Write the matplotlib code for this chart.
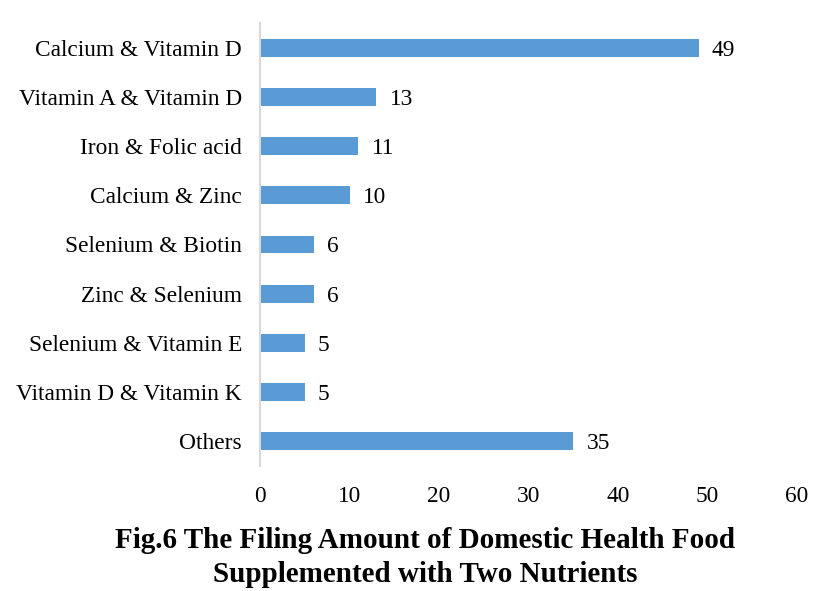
import matplotlib
matplotlib.use("Agg")
import matplotlib.pyplot as plt

categories = ["Calcium & Vitamin D", "Vitamin A & Vitamin D", "Iron & Folic acid",
              "Calcium & Zinc", "Selenium & Biotin", "Zinc & Selenium",
              "Selenium & Vitamin E", "Vitamin D & Vitamin K", "Others"]
values = [49, 13, 11, 10, 6, 6, 5, 5, 35]
xticks = [0, 10, 20, 30, 40, 50, 60]

plt.rcParams['font.family'] = ['Liberation Serif', 'DejaVu Serif']

fig = plt.figure(figsize=(8.27, 5.91), dpi=100)
ax = fig.add_axes([260/827, 1-466/591, (797-260)/827, (466-23)/591])

y = list(range(len(categories)))
ax.barh(y, values, height=0.365, color="#5B9BD5")
ax.set_ylim(len(categories)-0.5, -0.5)
ax.set_xlim(0, 60)
ax.set_yticks(y)
ax.set_yticklabels(categories, fontsize=16.8)
ax.set_xticks(xticks)
ax.set_xticklabels([str(t) for t in xticks], fontsize=16.8)
ax.tick_params(axis='both', length=0)
ax.tick_params(axis='y', pad=13)
ax.tick_params(axis='x', pad=14.5)
for s in ["top", "right", "bottom"]:
    ax.spines[s].set_visible(False)
ax.spines["left"].set_color("#D9D9D9")
ax.spines["left"].set_linewidth(1.5)

for yi, v in zip(y, values):
    ax.annotate(str(v), (v, yi), xytext=(9.5, 0), textcoords="offset points",
                ha="left", va="center_baseline", fontsize=16.8)

fig.text(425/827, 1-540/591, "Fig.6 The Filing Amount of Domestic Health Food",
         ha="center", va="center", fontsize=21, fontweight="bold")
fig.text(425/827, 1-575/591, "Supplemented with Two Nutrients",
         ha="center", va="center", fontsize=21, fontweight="bold")

fig.savefig("out.png", dpi=100)
